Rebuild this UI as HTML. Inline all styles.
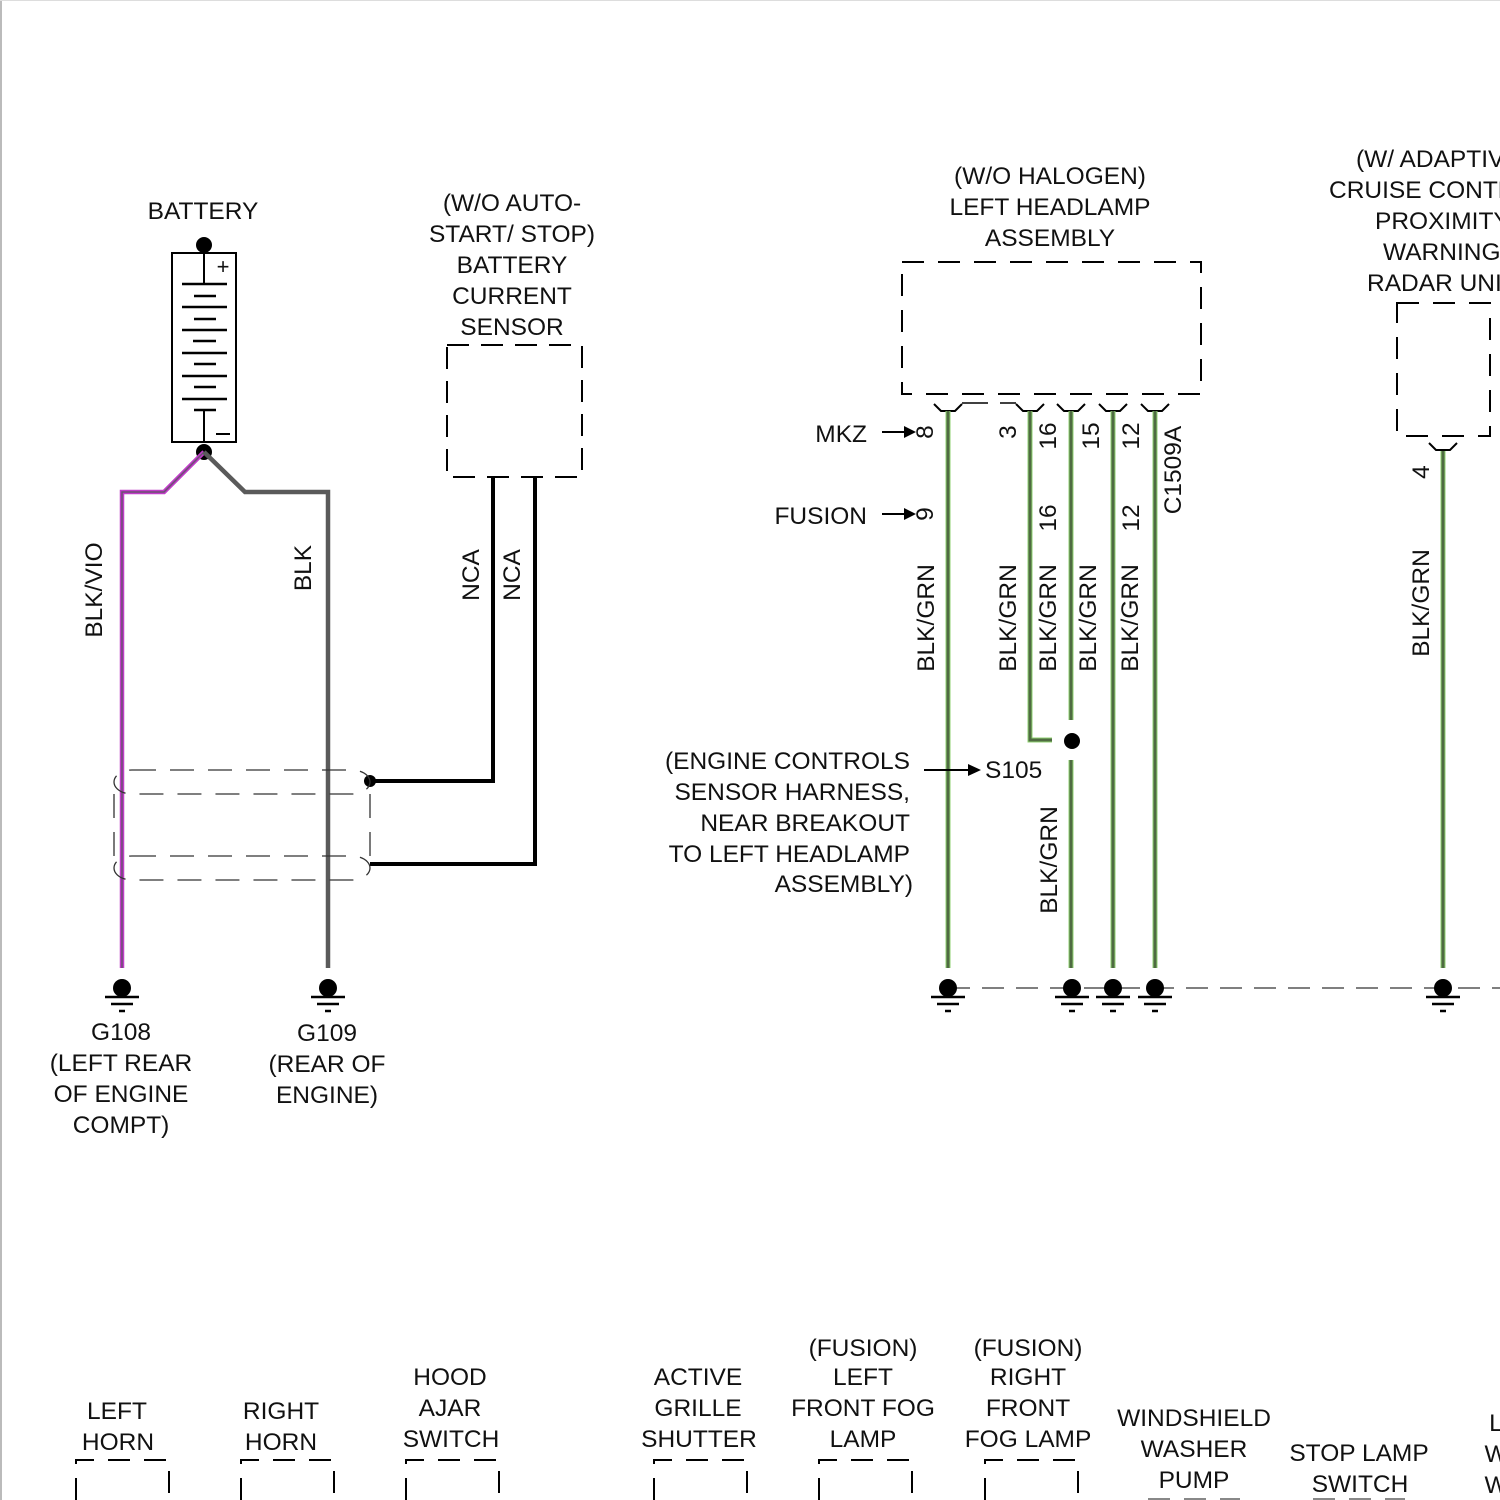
<!DOCTYPE html>
<html><head><meta charset="utf-8"><style>
html,body{margin:0;padding:0;background:#fff}
svg{display:block}
text{font-family:"Liberation Sans",Arial,sans-serif;font-size:24.5px;fill:#111}
</style></head><body>
<svg width="1500" height="1500" viewBox="0 0 1500 1500" xmlns="http://www.w3.org/2000/svg">
<line x1="1" y1="0" x2="1" y2="1500" stroke="#bbb" stroke-width="2"/>
<line x1="0" y1="0.5" x2="1500" y2="0.5" stroke="#ddd" stroke-width="1"/>
<defs>
<g id="gnd">
<circle cx="0" cy="-1" r="9" fill="#000"/>
<line x1="-17" y1="8" x2="17" y2="8" stroke="#000" stroke-width="2.5"/>
<line x1="-11" y1="15" x2="11" y2="15" stroke="#000" stroke-width="2.5"/>
<line x1="-3" y1="22" x2="3" y2="22" stroke="#000" stroke-width="2.5"/>
</g>
<g id="fork"><path d="M-14,404 L-7,411 L7,411 L14,404" fill="none" stroke="#000" stroke-width="2"/></g>
</defs>

<!-- Battery -->
<text x="203" y="219" text-anchor="middle">BATTERY</text>
<circle cx="204" cy="245" r="8" fill="#000"/>
<rect x="172" y="253" width="64" height="189" fill="none" stroke="#000" stroke-width="2"/>
<line x1="204" y1="253" x2="204" y2="284" stroke="#000" stroke-width="2"/>
<line x1="204" y1="410" x2="204" y2="442" stroke="#000" stroke-width="2"/>
<text x="223" y="274" text-anchor="middle" style="font-size:22px">+</text>
<line x1="216" y1="434" x2="230" y2="434" stroke="#000" stroke-width="2"/>
<g stroke="#000" stroke-width="2.5">
<line x1="182" y1="284" x2="227" y2="284"/><line x1="194" y1="296" x2="216" y2="296"/>
<line x1="182" y1="307" x2="227" y2="307"/><line x1="194" y1="319" x2="216" y2="319"/>
<line x1="182" y1="330" x2="227" y2="330"/><line x1="193" y1="341" x2="216" y2="341"/>
<line x1="182" y1="353" x2="227" y2="353"/><line x1="194" y1="364" x2="216" y2="364"/>
<line x1="182" y1="376" x2="227" y2="376"/><line x1="194" y1="387" x2="216" y2="387"/>
<line x1="182" y1="399" x2="227" y2="399"/><line x1="194" y1="410" x2="216" y2="410"/>
</g>
<circle cx="204" cy="452" r="8" fill="#000"/>
<path d="M204,452 L164,492 L122,492 L122,968" fill="none" stroke="#c03cc8" stroke-width="4.5"/>
<path d="M204,452 L164,492 L122,492 L122,968" fill="none" stroke="#6a5070" stroke-width="1.5"/>
<path d="M204,452 L245,492 L328,492 L328,968" fill="none" stroke="#5a5a5a" stroke-width="4.5"/>
<text transform="translate(102,590) rotate(-90)" text-anchor="middle">BLK/VIO</text>
<text transform="translate(311,568) rotate(-90)" text-anchor="middle">BLK</text>

<!-- sensor -->
<text x="512" y="211" text-anchor="middle">(W/O AUTO-</text>
<text x="512" y="242" text-anchor="middle">START/ STOP)</text>
<text x="512" y="273" text-anchor="middle">BATTERY</text>
<text x="512" y="304" text-anchor="middle">CURRENT</text>
<text x="512" y="335" text-anchor="middle">SENSOR</text>
<rect x="447" y="345" width="135" height="132" fill="none" stroke="#000" stroke-width="2" stroke-dasharray="22,12"/>
<path d="M493,477 L493,781 L370,781" fill="none" stroke="#000" stroke-width="4"/>
<path d="M535,477 L535,864 L370,864" fill="none" stroke="#000" stroke-width="4"/>
<circle cx="370" cy="781" r="6" fill="#000"/>
<text transform="translate(479,575) rotate(-90)" text-anchor="middle">NCA</text>
<text transform="translate(520,575) rotate(-90)" text-anchor="middle">NCA</text>
<g fill="none" stroke="#333" stroke-width="1.3" stroke-dasharray="24,14">
<rect x="114" y="770" width="256" height="24" rx="18" ry="12"/>
<rect x="114" y="856" width="256" height="24" rx="18" ry="12"/>
<line x1="114" y1="794" x2="114" y2="868"/>
<line x1="370" y1="794" x2="370" y2="868"/>
</g>
<use href="#gnd" x="122" y="989"/>
<use href="#gnd" x="328" y="989"/>
<text x="121" y="1040" text-anchor="middle">G108</text>
<text x="121" y="1071" text-anchor="middle">(LEFT REAR</text>
<text x="121" y="1102" text-anchor="middle">OF ENGINE</text>
<text x="121" y="1133" text-anchor="middle">COMPT)</text>
<text x="327" y="1041" text-anchor="middle">G109</text>
<text x="327" y="1072" text-anchor="middle">(REAR OF</text>
<text x="327" y="1103" text-anchor="middle">ENGINE)</text>

<!-- headlamp -->
<text x="1050" y="184" text-anchor="middle">(W/O HALOGEN)</text>
<text x="1050" y="215" text-anchor="middle">LEFT HEADLAMP</text>
<text x="1050" y="246" text-anchor="middle">ASSEMBLY</text>
<rect x="902" y="262" width="299" height="132" fill="none" stroke="#000" stroke-width="2" stroke-dasharray="22,14"/>
<use href="#fork" x="948"/><use href="#fork" x="1030"/><use href="#fork" x="1071"/><use href="#fork" x="1113"/><use href="#fork" x="1155"/>
<line x1="962" y1="403" x2="988" y2="403" stroke="#000" stroke-width="1.5"/>
<line x1="1000" y1="403" x2="1016" y2="403" stroke="#000" stroke-width="1.5"/>
<g fill="none" stroke-width="5" stroke="#8fd070">
<line x1="948" y1="411" x2="948" y2="968"/>
<path d="M1030,411 L1030,740 L1052,740"/>
<line x1="1071" y1="411" x2="1071" y2="720"/>
<line x1="1071" y1="760" x2="1071" y2="968"/>
<line x1="1113" y1="411" x2="1113" y2="968"/>
<line x1="1155" y1="411" x2="1155" y2="968"/>
<line x1="1443" y1="450" x2="1443" y2="968"/>
</g>
<g fill="none" stroke-width="3" stroke="#4f6b42">
<line x1="948" y1="411" x2="948" y2="968"/>
<path d="M1030,411 L1030,740 L1052,740"/>
<line x1="1071" y1="411" x2="1071" y2="720"/>
<line x1="1071" y1="760" x2="1071" y2="968"/>
<line x1="1113" y1="411" x2="1113" y2="968"/>
<line x1="1155" y1="411" x2="1155" y2="968"/>
<line x1="1443" y1="450" x2="1443" y2="968"/>
</g>
<circle cx="1072" cy="741" r="8" fill="#000"/>
<text x="867" y="442" text-anchor="end">MKZ</text>
<text x="867" y="524" text-anchor="end">FUSION</text>
<g stroke="#000" stroke-width="2"><line x1="882" y1="432" x2="906" y2="432"/><line x1="882" y1="514" x2="906" y2="514"/><line x1="924" y1="770" x2="970" y2="770"/></g>
<path d="M904,426 L916,432 L904,438Z M904,508 L916,514 L904,520Z M968,764 L981,770 L968,776Z" fill="#000"/>
<text transform="translate(933,432) rotate(-90)" text-anchor="middle">8</text>
<text transform="translate(933,514) rotate(-90)" text-anchor="middle">9</text>
<text transform="translate(1016,432) rotate(-90)" text-anchor="middle">3</text>
<text transform="translate(1056,436) rotate(-90)" text-anchor="middle">16</text>
<text transform="translate(1099,436) rotate(-90)" text-anchor="middle">15</text>
<text transform="translate(1139,436) rotate(-90)" text-anchor="middle">12</text>
<text transform="translate(1181,470) rotate(-90)" text-anchor="middle">C1509A</text>
<text transform="translate(1056,518) rotate(-90)" text-anchor="middle">16</text>
<text transform="translate(1139,518) rotate(-90)" text-anchor="middle">12</text>
<text transform="translate(934,618) rotate(-90)" text-anchor="middle">BLK/GRN</text>
<text transform="translate(1016,618) rotate(-90)" text-anchor="middle">BLK/GRN</text>
<text transform="translate(1056,618) rotate(-90)" text-anchor="middle">BLK/GRN</text>
<text transform="translate(1096,618) rotate(-90)" text-anchor="middle">BLK/GRN</text>
<text transform="translate(1138,618) rotate(-90)" text-anchor="middle">BLK/GRN</text>
<text transform="translate(1057,860) rotate(-90)" text-anchor="middle">BLK/GRN</text>
<text transform="translate(1429,603) rotate(-90)" text-anchor="middle">BLK/GRN</text>
<text transform="translate(1429,472) rotate(-90)" text-anchor="middle">4</text>
<text x="985" y="778">S105</text>
<text x="910" y="769" text-anchor="end">(ENGINE CONTROLS</text>
<text x="910" y="800" text-anchor="end">SENSOR HARNESS,</text>
<text x="910" y="831" text-anchor="end">NEAR BREAKOUT</text>
<text x="910" y="862" text-anchor="end">TO LEFT HEADLAMP</text>
<text x="913" y="892" text-anchor="end">ASSEMBLY)</text>
<line x1="948" y1="988" x2="1500" y2="988" stroke="#333" stroke-width="1.3" stroke-dasharray="22,12"/>
<use href="#gnd" x="948" y="989"/><use href="#gnd" x="1072" y="989"/><use href="#gnd" x="1113" y="989"/><use href="#gnd" x="1155" y="989"/><use href="#gnd" x="1443" y="989"/>

<!-- radar -->
<text x="1356" y="167">(W/ ADAPTIVE</text>
<text x="1329" y="198">CRUISE CONTROL</text>
<text x="1375" y="229">PROXIMITY</text>
<text x="1383" y="260">WARNING</text>
<text x="1367" y="291">RADAR UNIT</text>
<rect x="1397" y="303" width="93" height="133" fill="none" stroke="#000" stroke-width="2" stroke-dasharray="22,14"/>
<path d="M1429,443 L1436,450 L1450,450 L1457,443" fill="none" stroke="#000" stroke-width="2"/>

<!-- bottom components -->
<g text-anchor="middle">
<text x="117" y="1419">LEFT</text><text x="118" y="1450">HORN</text>
<text x="281" y="1419">RIGHT</text><text x="281" y="1450">HORN</text>
<text x="450" y="1385">HOOD</text><text x="450" y="1416">AJAR</text><text x="451" y="1447">SWITCH</text>
<text x="698" y="1385">ACTIVE</text><text x="698" y="1416">GRILLE</text><text x="699" y="1447">SHUTTER</text>
<text x="863" y="1356">(FUSION)</text><text x="863" y="1385">LEFT</text><text x="863" y="1416">FRONT FOG</text><text x="863" y="1447">LAMP</text>
<text x="1028" y="1356">(FUSION)</text><text x="1028" y="1385">RIGHT</text><text x="1028" y="1416">FRONT</text><text x="1028" y="1447">FOG LAMP</text>
<text x="1194" y="1426">WINDSHIELD</text><text x="1194" y="1457">WASHER</text><text x="1194" y="1488">PUMP</text>
<text x="1359" y="1461">STOP LAMP</text><text x="1360" y="1492">SWITCH</text>
<text x="1496" y="1431">L</text><text x="1496" y="1462">W</text><text x="1496" y="1493">W</text>
</g>
<g fill="none" stroke="#000" stroke-width="2" stroke-dasharray="22,14">
<path d="M76,1500 L76,1460 L169,1460 L169,1500"/>
<path d="M241,1500 L241,1460 L334,1460 L334,1500"/>
<path d="M406,1500 L406,1460 L499,1460 L499,1500"/>
<path d="M654,1500 L654,1460 L747,1460 L747,1500"/>
<path d="M819,1500 L819,1460 L912,1460 L912,1500"/>
<path d="M985,1500 L985,1460 L1078,1460 L1078,1500"/>
<line x1="1148" y1="1499" x2="1240" y2="1499" stroke="#888"/>
<line x1="1313" y1="1499" x2="1405" y2="1499" stroke="#888"/>
</g>
</svg>
</body></html>
